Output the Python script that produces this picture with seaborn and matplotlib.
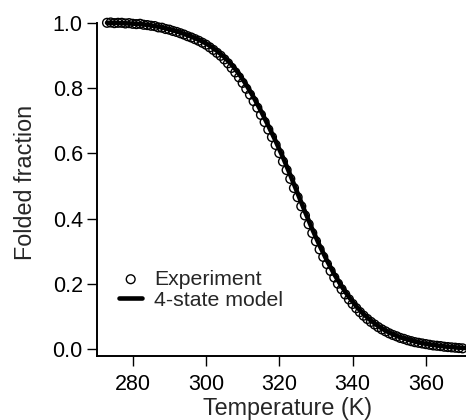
import numpy as np
import pandas as pd
import matplotlib
matplotlib.use("Agg")
import matplotlib.pyplot as plt
import seaborn as sns

# experiment (1 K steps from 273 to 370 K)
exp_temp = np.arange(273, 371, 1)
exp_frac = [1.000, 1.001, 0.999, 1.000, 1.000, 0.998, 0.999, 0.997, 0.996, 0.997,
            0.994, 0.993, 0.991, 0.990, 0.986, 0.985, 0.981, 0.979, 0.975, 0.972,
            0.968, 0.964, 0.959, 0.955, 0.950, 0.945, 0.939, 0.933, 0.925, 0.917,
            0.908, 0.899, 0.888, 0.876, 0.862, 0.848, 0.833, 0.816, 0.798, 0.780,
            0.760, 0.740, 0.718, 0.696, 0.673, 0.650, 0.626, 0.601, 0.575, 0.549,
            0.522, 0.494, 0.466, 0.438, 0.410, 0.383, 0.356, 0.331, 0.306, 0.283,
            0.261, 0.240, 0.220, 0.201, 0.184, 0.168, 0.153, 0.139, 0.126, 0.114,
            0.103, 0.093, 0.084, 0.076, 0.068, 0.061, 0.055, 0.049, 0.044, 0.040,
            0.035, 0.032, 0.028, 0.025, 0.022, 0.020, 0.018, 0.016, 0.014, 0.012,
            0.011, 0.010, 0.008, 0.007, 0.006, 0.005, 0.004, 0.003]

# 4-state model curve (2 K steps)
model_temp = np.arange(273, 372, 2)
model_frac = [1.000, 1.000, 0.999, 0.998, 0.997, 0.995, 0.992, 0.988, 0.983, 0.977,
              0.970, 0.962, 0.953, 0.943, 0.930, 0.914, 0.895, 0.872, 0.844, 0.810,
              0.772, 0.730, 0.685, 0.638, 0.588, 0.534, 0.478, 0.422, 0.368, 0.318,
              0.272, 0.230, 0.193, 0.160, 0.132, 0.108, 0.088, 0.071, 0.057, 0.046,
              0.037, 0.030, 0.024, 0.019, 0.015, 0.012, 0.009, 0.007, 0.005, 0.004]

x_ticks = [280, 300, 320, 340, 360]
y_ticks = [0.0, 0.2, 0.4, 0.6, 0.8, 1.0]

exp_df = pd.DataFrame({"T": exp_temp, "f": exp_frac})
model_df = pd.DataFrame({"T": model_temp, "f": model_frac})

sns.set_style("ticks")
plt.rcParams["font.family"] = ["Liberation Sans", "DejaVu Sans"]

fig = plt.figure(figsize=(4.66, 4.2), dpi=100)
ax = fig.add_axes([0.2075, 0.153, 0.7925, 0.8238])

sns.scatterplot(data=exp_df, x="T", y="f", ax=ax, marker="o", s=40,
                facecolor="none", edgecolor="black", linewidth=1.0,
                label="Experiment", zorder=2)
sns.lineplot(data=model_df, x="T", y="f", ax=ax, color="black", linewidth=3.3,
             label="4-state model", zorder=3)

ax.set_xlim(270.18, 370.94)
ax.set_ylim(-0.0196, 1.04)
ax.set_xticks(x_ticks)
ax.set_yticks(y_ticks)
ax.set_yticklabels([f"{v:.1f}" for v in y_ticks])
ax.tick_params(direction="out", length=7, width=1.0, labelsize=15.5, colors="black")
ax.tick_params(axis="x", pad=6)
ax.tick_params(axis="y", pad=3)

sns.despine(ax=ax)
ax.spines["left"].set_bounds(-0.0196, 1.0)
for s in ["left", "bottom"]:
    ax.spines[s].set_linewidth(1.4)
    ax.spines[s].set_color("black")

ax.set_xlabel("Temperature (K)", fontsize=16.8)
ax.xaxis.set_label_coords(0.518, -0.118)
ax.set_ylabel("Folded fraction", fontsize=16.8)
ax.yaxis.set_label_coords(-0.162, 0.5)

ax.legend(loc="center left", bbox_to_anchor=(0.0604, 0.191), frameon=False,
          fontsize=15.3, borderpad=0, borderaxespad=0, handlelength=1.1,
          handletextpad=0.55, labelspacing=0.08)

fig.savefig("out.png", dpi=100)
